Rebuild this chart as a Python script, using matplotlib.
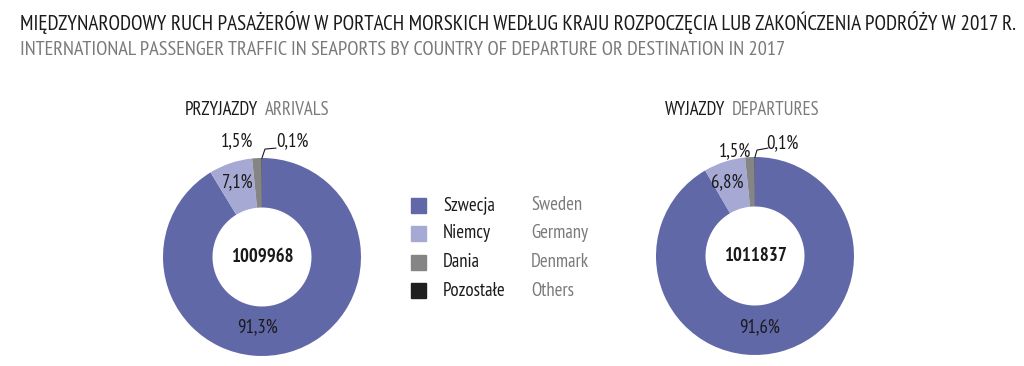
import matplotlib
matplotlib.use("Agg")
import matplotlib.pyplot as plt

plt.rcParams['font.family'] = ['PT Sans Narrow', 'DejaVu Sans']

categories_pl = ["Szwecja", "Niemcy", "Dania", "Pozostałe"]
categories_en = ["Sweden", "Germany", "Denmark", "Others"]
colors = ["#6168a8", "#a6a9d3", "#858585", "#1f1f1f"]

arrivals = [91.3, 7.1, 1.5, 0.1]
departures = [91.6, 6.8, 1.5, 0.1]
arrivals_total = "1009968"
departures_total = "1011837"

title_pl = "MIĘDZYNARODOWY RUCH PASAŻERÓW W PORTACH MORSKICH WEDŁUG KRAJU ROZPOCZĘCIA LUB ZAKOŃCZENIA PODRÓŻY W 2017 R."
title_en = "INTERNATIONAL PASSENGER TRAFFIC IN SEAPORTS BY COUNTRY OF DEPARTURE OR DESTINATION IN 2017"

DARK = "#1a1a1a"
GREY = "#7a7a7a"
FS = 13.5

fig = plt.figure(figsize=(10.24, 3.66), dpi=100)
W, H = 1024, 366

fig.text(20 / W, 1 - 22 / H, title_pl, fontsize=15.2, color=DARK, va="center")
fig.text(20 / W, 1 - 50 / H, title_en, fontsize=14.7, color=GREY, va="center")


def donut(cx, cy, r, values, total, labels_pos, leader):
    ax = fig.add_axes([(cx - r) / W, (H - cy - r) / H, 2 * r / W, 2 * r / H])
    ax.pie(values, colors=colors, startangle=90, counterclock=False,
           radius=1, wedgeprops=dict(width=0.5, linewidth=0))
    ax.set_xlim(-1, 1)
    ax.set_ylim(-1, 1)
    ax.set_aspect("equal")
    ax.axis("off")
    ax.text(0, 0, total, ha="center", va="center", fontsize=FS,
            fontweight="bold", color=DARK)
    for v, (x, y) in zip(values, labels_pos):
        ax.text(x, y, f"{v:.1f}%".replace(".", ","), ha="center", va="center",
                fontsize=FS, color=DARK, clip_on=False)
    ax.plot(leader[0], leader[1], color=DARK, lw=0.8, clip_on=False)
    return ax


donut(262, 257, 99, arrivals, arrivals_total,
      [(-0.05, -0.71), (-0.25, 0.76), (-0.25, 1.17), (0.31, 1.17)],
      ([0.0, 0.03, 0.14], [1.0, 1.09, 1.10]))
donut(755, 256, 99, departures, departures_total,
      [(0.05, -0.72), (-0.28, 0.75), (-0.2, 1.06), (0.28, 1.14)],
      ([0.0, 0.02, 0.13], [1.0, 1.07, 1.09]))

# panel titles
fig.text(185 / W, 1 - 110 / H, "PRZYJAZDY", fontsize=FS, color=DARK, va="center")
fig.text(265 / W, 1 - 110 / H, "ARRIVALS", fontsize=FS, color=GREY, va="center")
fig.text(665 / W, 1 - 110 / H, "WYJAZDY", fontsize=FS, color=DARK, va="center")
fig.text(732 / W, 1 - 110 / H, "DEPARTURES", fontsize=FS, color=GREY, va="center")

# legend
for i, (pl, en, c) in enumerate(zip(categories_pl, categories_en, colors)):
    y = 205 + i * 28.5
    fig.patches.append(plt.Rectangle((411 / W, 1 - (y + 7.5) / H), 15 / W, 15 / H,
                                     transform=fig.transFigure, color=c))
    fig.text(443 / W, 1 - y / H, pl, fontsize=FS, color=DARK, va="center")
    fig.text(531 / W, 1 - y / H, en, fontsize=FS, color=GREY, va="center")

fig.savefig("out.png", dpi=100)
